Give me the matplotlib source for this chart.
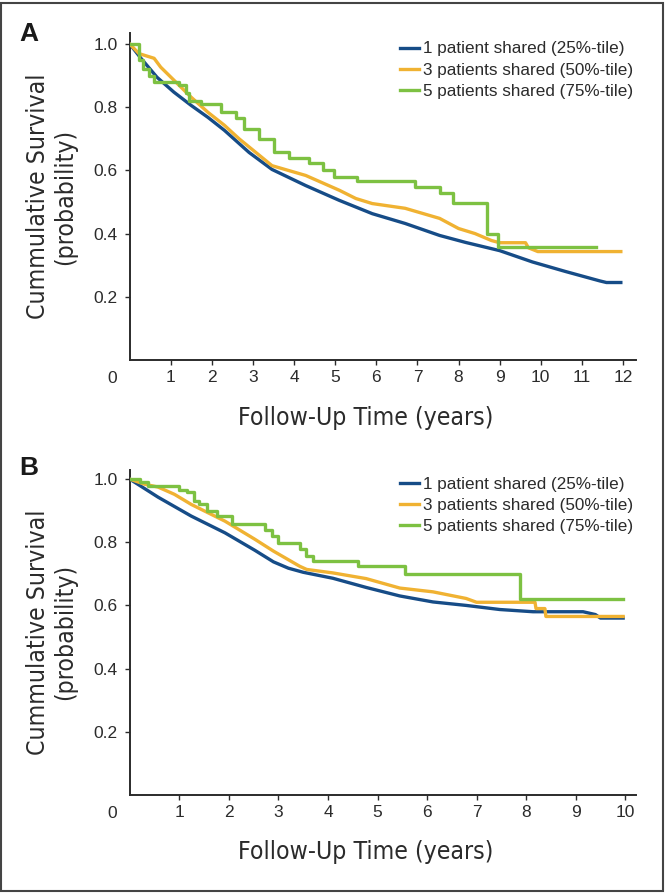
import matplotlib
matplotlib.use('Agg')
import matplotlib.pyplot as plt
from matplotlib import font_manager as fm
from matplotlib.patches import Rectangle

# panel A (years, survival)
a_blue_t = [0, 0.27, 0.66, 1.07, 1.49, 1.9, 2.3, 2.9, 3.46, 4.28, 5.1, 5.9, 6.7, 7.54, 8.17, 9.0, 9.8, 10.6, 11.44, 11.6, 11.95]
a_blue_s = [1.0, 0.955, 0.895, 0.848, 0.806, 0.768, 0.727, 0.657, 0.603, 0.552, 0.505, 0.463, 0.432, 0.394, 0.372, 0.346, 0.31, 0.28, 0.25, 0.245, 0.245]
a_orange_t = [0, 0.22, 0.59, 0.75, 1.07, 1.49, 1.9, 2.3, 2.66, 3.46, 4.28, 5.1, 5.5, 5.9, 6.7, 7.54, 8.0, 8.4, 8.8, 9.0, 9.63, 9.7, 9.93, 11.95]
a_orange_s = [1.0, 0.97, 0.955, 0.927, 0.886, 0.832, 0.784, 0.743, 0.70, 0.615, 0.584, 0.537, 0.511, 0.495, 0.48, 0.448, 0.416, 0.40, 0.378, 0.371, 0.371, 0.355, 0.343, 0.343]
a_green_t = [0, 0.22, 0.32, 0.46, 0.59, 1.2, 1.37, 1.44, 1.73, 2.22, 2.59, 2.78, 3.14, 3.51, 3.88, 4.37, 4.69, 4.97, 5.54, 6.93, 7.54, 7.86, 8.7, 8.95, 11.35]
a_green_s = [1.0, 0.95, 0.92, 0.90, 0.88, 0.87, 0.845, 0.82, 0.81, 0.785, 0.765, 0.73, 0.70, 0.657, 0.638, 0.622, 0.60, 0.578, 0.565, 0.546, 0.527, 0.498, 0.40, 0.356, 0.356]

# panel B
b_blue_t = [0, 0.57, 1.24, 1.92, 2.52, 2.9, 3.2, 3.5, 4.1, 4.77, 5.45, 6.12, 6.79, 7.47, 8.14, 9.15, 9.4, 9.5, 9.96]
b_blue_s = [1.0, 0.943, 0.883, 0.83, 0.775, 0.738, 0.718, 0.705, 0.686, 0.657, 0.63, 0.611, 0.60, 0.587, 0.58, 0.58, 0.571, 0.56, 0.56]
b_orange_t = [0, 0.3, 0.57, 0.9, 1.24, 1.92, 2.52, 2.9, 3.43, 3.57, 4.1, 4.77, 5.45, 6.12, 6.79, 7.0, 8.18, 8.2, 8.38, 8.4, 9.96]
b_orange_s = [1.0, 0.984, 0.975, 0.952, 0.92, 0.867, 0.81, 0.772, 0.724, 0.714, 0.703, 0.685, 0.655, 0.643, 0.622, 0.61, 0.61, 0.59, 0.59, 0.565, 0.565]
b_green_t = [0, 0.2, 0.37, 1.0, 1.15, 1.3, 1.4, 1.55, 1.75, 2.07, 2.73, 2.86, 3.0, 3.43, 3.55, 3.7, 4.6, 5.56, 7.88, 9.96]
b_green_s = [1.0, 0.99, 0.978, 0.966, 0.958, 0.93, 0.92, 0.90, 0.883, 0.857, 0.84, 0.82, 0.797, 0.778, 0.756, 0.74, 0.724, 0.698, 0.619, 0.619]

labels = ['1 patient shared (25%-tile)', '3 patients shared (50%-tile)', '5 patients shared (75%-tile)']
yticks = [0.2, 0.4, 0.6, 0.8, 1.0]

blue = '#164c87'
orange = '#f0b232'
green = '#7dc142'
ink = '#2b2b2b'

plt.rcParams['font.family'] = ['Liberation Sans', 'DejaVu Sans']

# look for a narrow / condensed face for the axis titles
narrow = None
for f in fm.fontManager.ttflist:
    n = f.name.lower()
    if ('narrow' in n or 'condensed' in n or 'condensed' in str(f.stretch)) \
            and f.style == 'normal' and f.weight in (400, 'normal', 'regular'):
        narrow = fm.FontProperties(fname=f.fname)
        break
if narrow is None:
    narrow = fm.FontProperties(family='Roboto')
    lab_size = 17
else:
    lab_size = 17.8

fig = plt.figure(figsize=(6.66, 8.93), dpi=100)
axA = fig.add_axes([0.195, 0.597, 0.76, 0.366])
axB = fig.add_axes([0.195, 0.110, 0.76, 0.364])


def style(ax, xmax, xt, ymax, leg_top):
    ax.set_xlim(0, xmax)
    ax.set_ylim(0, ymax)
    ax.set_xticks(xt)
    ax.set_yticks(yticks)
    ax.set_yticklabels(['%.1f' % v for v in yticks])
    for s in ['top', 'right']:
        ax.spines[s].set_visible(False)
    for s in ['left', 'bottom']:
        ax.spines[s].set_linewidth(1.4)
        ax.spines[s].set_color(ink)
    ax.tick_params(direction='out', length=3.6, width=1.0, color=ink,
                   labelsize=12.5, labelcolor=ink)
    ax.tick_params(axis='x', pad=4)
    ax.tick_params(axis='y', pad=5)
    ax.annotate('0', xy=(0, 0), xycoords='axes fraction', xytext=(-13, -13.7),
                textcoords='offset points', ha='center', va='center',
                fontsize=12.5, color=ink)
    ax.set_xlabel('Follow-Up Time (years)', fontproperties=narrow, fontsize=lab_size, color=ink)
    ax.set_ylabel('Cummulative Survival\n(probability)', fontproperties=narrow, fontsize=lab_size,
                  color=ink, linespacing=1.15)
    ax.xaxis.set_label_coords(0.466, -0.14)
    ax.yaxis.set_label_coords(-0.105, 0.5)
    ax.legend(labels, loc='upper left', bbox_to_anchor=(400 / 666, 1 - leg_top / 893),
              bbox_transform=fig.transFigure, frameon=False, fontsize=12.3,
              borderpad=0, borderaxespad=0, handlelength=1.1, handletextpad=0.25,
              labelspacing=0.36, labelcolor=ink)


lw = 2.4
axA.plot(a_blue_t, a_blue_s, color=blue, lw=lw, zorder=3)
axA.plot(a_orange_t, a_orange_s, color=orange, lw=lw, zorder=4)
axA.step(a_green_t, a_green_s, where='post', color=green, lw=lw, zorder=5)
style(axA, 12.32, range(1, 13), 1.035, 41.5)

axB.plot(b_blue_t, b_blue_s, color=blue, lw=lw, zorder=3)
axB.plot(b_orange_t, b_orange_s, color=orange, lw=lw, zorder=4)
axB.step(b_green_t, b_green_s, where='post', color=green, lw=lw, zorder=5)
style(axB, 10.22, range(1, 11), 1.03, 477)

fig.text(29 / 666, 1 - 34 / 893, 'A', fontsize=19, fontweight='bold', ha='center', va='center', color='#1a1a1a')
fig.text(29 / 666, 1 - 468 / 893, 'B', fontsize=19, fontweight='bold', ha='center', va='center', color='#1a1a1a')

fig.add_artist(Rectangle((0.002, 0.002), 0.993, 0.995, transform=fig.transFigure,
                         fill=False, ec='#444444', lw=1.5))

fig.savefig('out.png', dpi=100)
